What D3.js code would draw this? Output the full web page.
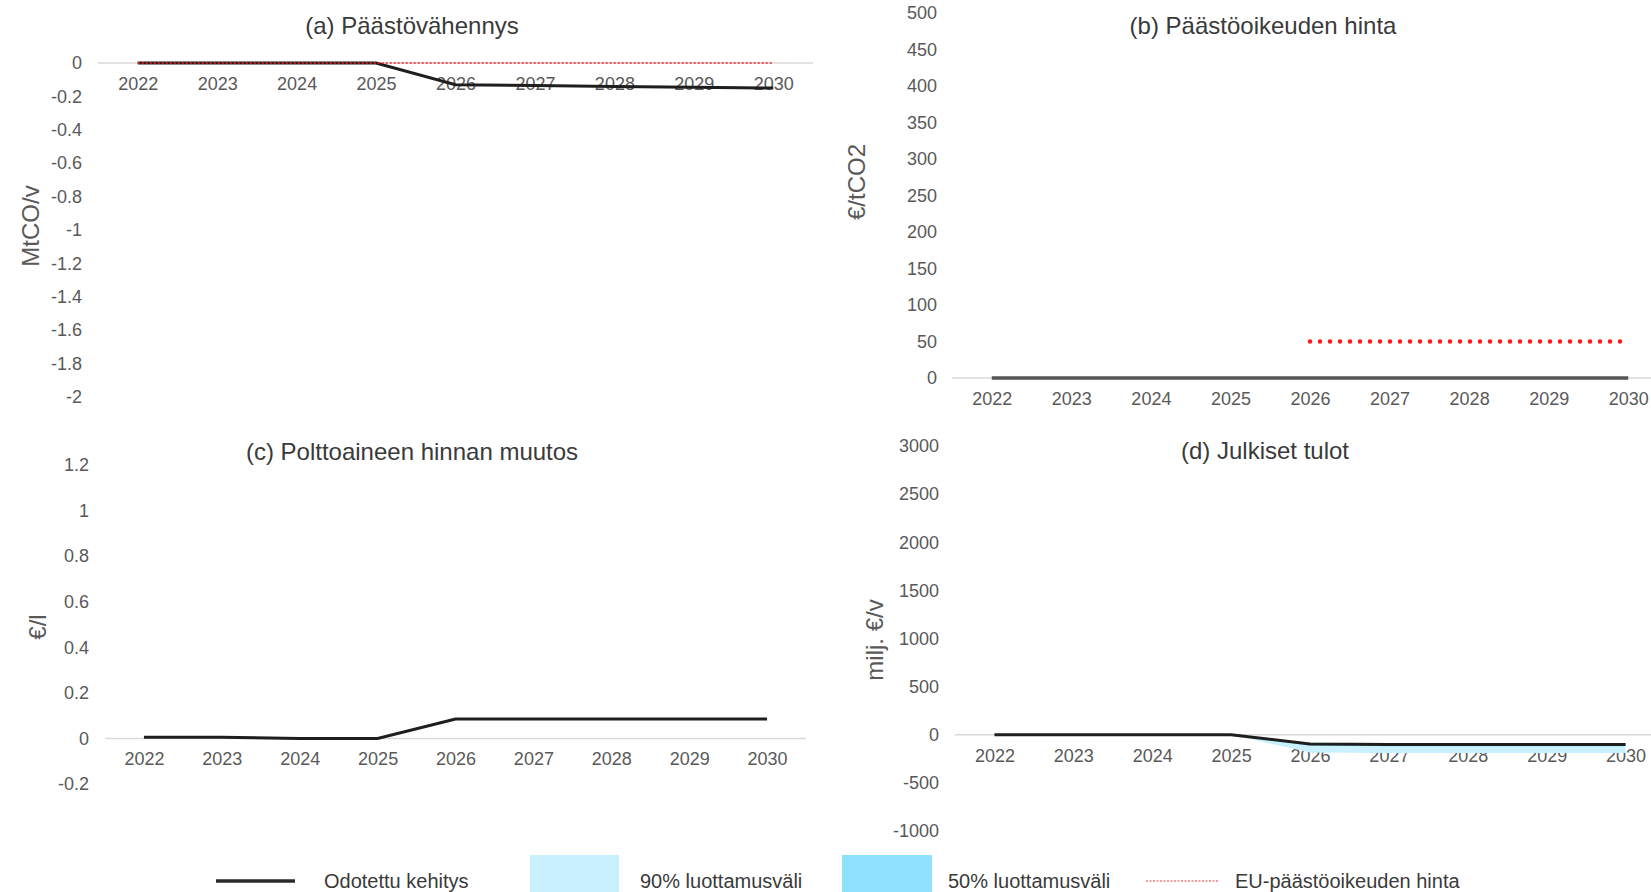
<!DOCTYPE html>
<html>
<head>
<meta charset="utf-8">
<script src="https://cdn.jsdelivr.net/npm/d3@7"></script>
<style>
body { margin: 0; background: #fff; }
svg text { font-family: 'Liberation Sans', Arial, sans-serif; }
</style>
</head>
<body>
<div id="chart"></div>
<script>
let width = 1651
let height = 892

let years = ['2022','2023','2024','2025','2026','2027','2028','2029','2030']

// (a) Päästövähennys
let aExpected = [0, 0, 0, 0, -0.13, -0.135, -0.14, -0.145, -0.15]
let aEuPrice = [0, 0, 0, 0, 0, 0, 0, 0, 0]
let aTicks = [0, -0.2, -0.4, -0.6, -0.8, -1, -1.2, -1.4, -1.6, -1.8, -2]

// (b) Päästöoikeuden hinta
let bExpected = [0, 0, 0, 0, 0, 0, 0, 0, 0]
let bEuPrice = [null, null, null, null, 50, 50, 50, 50, 50]
let bTicks = [0, 50, 100, 150, 200, 250, 300, 350, 400, 450, 500]

// (c) Polttoaineen hinnan muutos
let cExpected = [0.005, 0.005, 0, 0, 0.085, 0.085, 0.085, 0.085, 0.085]
let cTicks = [-0.2, 0, 0.2, 0.4, 0.6, 0.8, 1, 1.2]

// (d) Julkiset tulot
let dExpected = [0, 0, 0, 0, -95, -100, -100, -100, -100]
let d90Low = [0, 0, 0, 0, -185, -190, -190, -190, -190]
let d90High = [0, 0, 0, 0, -80, -85, -85, -85, -85]
let d50Low = [0, 0, 0, 0, -115, -120, -120, -120, -120]
let d50High = [0, 0, 0, 0, -88, -92, -92, -92, -92]
let dTicks = [-1000, -500, 0, 500, 1000, 1500, 2000, 2500, 3000]

let legendLabels = ['Odotettu kehitys', '90% luottamusväli', '50% luottamusväli', 'EU-päästöoikeuden hinta']

let colors = {
	'line': '#1e1e1e',
	'band90': '#c9f0fe',
	'band50': '#8fe1fd',
	'eu': '#ff1a1a',
	'grid': '#d9d9d9',
	'tick': '#595959',
	'title': '#3a3a3a',
}

let panels = [
	{
		'title': '(a) Päästövähennys', 'unit': 'MtCO/v',
		'xRange': [98, 813], 'yDomain': [0, -2], 'yRange': [63, 397],
		'ticks': aTicks, 'tickX': 82, 'titleAt': [412, 25], 'unitAt': [30, 226],
		'expected': aExpected, 'eu': aEuPrice, 'euThick': false, 'lineColor': colors.line,
	},
	{
		'title': '(b) Päästöoikeuden hinta', 'unit': '€/tCO2',
		'xRange': [952, 1668], 'yDomain': [0, 500], 'yRange': [378, 13],
		'ticks': bTicks, 'tickX': 937, 'titleAt': [1263, 25], 'unitAt': [856, 182],
		'expected': bExpected, 'eu': bEuPrice, 'euThick': true, 'lineColor': '#555',
	},
	{
		'title': '(c) Polttoaineen hinnan muutos', 'unit': '€/l',
		'xRange': [105, 806], 'yDomain': [1.2, -0.2], 'yRange': [465, 784],
		'ticks': cTicks, 'tickX': 89, 'titleAt': [412, 451], 'unitAt': [37, 627],
		'expected': cExpected, 'lineColor': colors.line,
	},
	{
		'title': '(d) Julkiset tulot', 'unit': 'milj. €/v',
		'xRange': [955, 1665], 'yDomain': [3000, -1000], 'yRange': [446, 831],
		'ticks': dTicks, 'tickX': 939, 'titleAt': [1265, 450], 'unitAt': [874, 640],
		'expected': dExpected, 'lineColor': colors.line,
		'bands': [
			{'low': d90Low, 'high': d90High, 'color': colors.band90},
			{'low': d50Low, 'high': d50High, 'color': colors.band50},
		],
	},
]

let fmt = (d) => String(+d.toFixed(1))

let svg = d3.select('#chart').append('svg')
	.attr('width', width)
	.attr('height', height)

panels.forEach((p) => {
	let g = svg.append('g')

	let xScale = d3.scalePoint()
		.domain(years)
		.range(p.xRange)
		.padding(0.5)

	let yScale = d3.scaleLinear()
		.domain(p.yDomain)
		.range(p.yRange)

	let yAxis = d3.axisLeft(yScale)
		.tickValues(p.ticks)
		.tickSize(0)
		.tickPadding(0)
		.tickFormat(fmt)

	let ya = g.append('g')
		.attr('transform', `translate(${p.tickX},0)`)
		.call(yAxis)
	ya.select('.domain').remove()
	ya.selectAll('text')
		.attr('font-size', 18)
		.attr('font-family', null)
		.attr('fill', colors.tick)

	// category axis sits on the zero line
	let xAxis = d3.axisBottom(xScale)
		.tickSize(0)
		.tickSizeOuter(0)
		.tickPadding(14)

	let xa = g.append('g')
		.attr('transform', `translate(0,${yScale(0)})`)
		.call(xAxis)
	xa.select('.domain').remove()
	xa.selectAll('text')
		.attr('font-size', 18)
		.attr('font-family', null)
		.attr('fill', colors.tick)

	g.append('line')
		.attr('x1', p.xRange[0])
		.attr('x2', p.xRange[1])
		.attr('y1', yScale(0))
		.attr('y2', yScale(0))
		.attr('stroke', colors.grid)
		.attr('stroke-width', 1.5)

	if (p.bands) {
		p.bands.forEach((b) => {
			let area = d3.area()
				.x((d, i) => xScale(years[i]))
				.y0((d, i) => yScale(b.low[i]))
				.y1((d, i) => yScale(b.high[i]))
			g.append('path')
				.datum(years)
				.attr('d', area)
				.attr('fill', b.color)
		})
	}

	let line = d3.line()
		.defined((d) => d != null)
		.x((d, i) => xScale(years[i]))
		.y((d) => yScale(d))

	g.append('path')
		.datum(p.expected)
		.attr('d', line)
		.attr('fill', 'none')
		.attr('stroke', p.lineColor)
		.attr('stroke-width', p.euThick ? 3.5 : 3)

	if (p.eu) {
		let eu = g.append('path')
			.datum(p.eu)
			.attr('d', line)
			.attr('fill', 'none')
			.attr('stroke', colors.eu)
		if (p.euThick) {
			eu.attr('stroke-width', 4.5)
				.attr('stroke-linecap', 'round')
				.attr('stroke-dasharray', '0,10')
		} else {
			eu.attr('stroke-width', 1.5)
				.attr('stroke-dasharray', '2,2')
		}
	}

	g.append('text')
		.attr('x', p.titleAt[0])
		.attr('y', p.titleAt[1])
		.attr('text-anchor', 'middle')
		.attr('dominant-baseline', 'central')
		.attr('font-size', 24)
		.attr('fill', colors.title)
		.text(p.title)

	g.append('text')
		.attr('transform', `translate(${p.unitAt[0]},${p.unitAt[1]}) rotate(-90)`)
		.attr('text-anchor', 'middle')
		.attr('dominant-baseline', 'central')
		.attr('font-size', 24)
		.attr('fill', colors.tick)
		.text(p.unit)
})

// legend
let legend = svg.append('g')
let ly = 881

legend.append('line')
	.attr('x1', 216).attr('x2', 295)
	.attr('y1', ly).attr('y2', ly)
	.attr('stroke', '#2a2a2a')
	.attr('stroke-width', 3.5)

legend.append('rect')
	.attr('x', 530).attr('y', 855)
	.attr('width', 89).attr('height', 40)
	.attr('fill', colors.band90)

legend.append('rect')
	.attr('x', 842).attr('y', 855)
	.attr('width', 90).attr('height', 40)
	.attr('fill', colors.band50)

legend.append('line')
	.attr('x1', 1146).attr('x2', 1219)
	.attr('y1', ly).attr('y2', ly)
	.attr('stroke', '#f07a7a')
	.attr('stroke-width', 1.5)
	.attr('stroke-dasharray', '2,1.5')

let legendX = [324, 640, 948, 1235]

legend.selectAll('text.lab')
	.data(legendLabels)
	.enter().append('text')
	.attr('class', 'lab')
	.attr('x', (d, i) => legendX[i])
	.attr('y', ly)
	.attr('dominant-baseline', 'central')
	.attr('font-size', 20)
	.attr('fill', colors.title)
	.text((d) => d)
</script>
</body>
</html>
